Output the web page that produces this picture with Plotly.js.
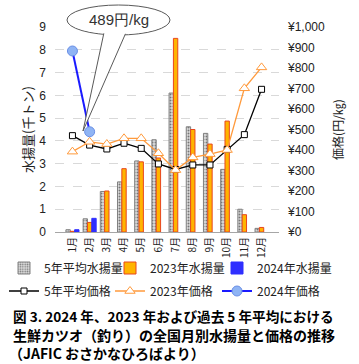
<!DOCTYPE html>
<html><head><meta charset="utf-8">
<script src="https://cdn.plot.ly/plotly-3.0.1.min.js"></script>
<style>html,body{margin:0;padding:0;background:#fff}#c{width:359px;height:364px}</style>
</head><body><div id="c"></div>
<script>
const months = ['1月','2月','3月','4月','5月','6月','7月','8月','9月','10月','11月','12月'];
const avg5Catch = [0.10,0.58,1.78,2.20,3.12,4.05,6.10,4.62,4.33,2.75,1.00,0.16];
const catch2023 = [0.03,0.42,1.80,2.78,3.08,3.25,8.50,4.50,3.86,4.87,0.76,0.20];
const catch2024 = [0.10,0.60,null,null,null,null,null,null,null,null,null,null];
const avg5Price = [470,424,405,433,408,332,305,327,327,403,475,696];
const price2023 = [392,440,429,457,457,384,302,364,380,400,701,803];
const price2024 = [883,489,null,null,null,null,null,null,null,null,null,null];
const calloutText = '489円/kg';
const captionLines = ['図 3. 2024 年、2023 年および過去 5 年平均における','生鮮カツオ（釣り）の全国月別水揚量と価格の推移','（JAFIC おさかなひろばより）'];

const W=359,H=364,L=55,R=80,T=27,B=132;
const pw=W-L-R, ph=H-T-B;
const px=x=>(x-L)/pw, py=y=>(H-B-y)/ph;
const JP='"Noto Sans CJK JP", sans-serif';
const LS='"Liberation Sans", Arial, sans-serif';

const traces = [
 {type:'bar',name:'5年平均水揚量',x:months,y:avg5Catch,legend:'legend',
  marker:{color:'#d4d4d4',line:{color:'#808080',width:1},pattern:{shape:'.',fgcolor:'#777',bgcolor:'#dcdcdc',size:3,solidity:0.35}}},
 {type:'bar',name:'2023年水揚量',x:months,y:catch2023,legend:'legend2',
  marker:{color:'#FFB400',line:{color:'#E8461E',width:1}}},
 {type:'bar',name:'2024年水揚量',x:months,y:catch2024,legend:'legend3',
  marker:{color:'#2f2fff',line:{color:'#2f2fff',width:1}}},
 {type:'scatter',mode:'lines+markers',name:'5年平均価格',x:months,y:avg5Price,yaxis:'y2',legend:'legend4',
  line:{color:'#000',width:1.3},marker:{symbol:'square',size:6,color:'#fff',line:{color:'#000',width:1}}},
 {type:'scatter',mode:'lines+markers',name:'2023年価格',x:months,y:price2023,yaxis:'y2',legend:'legend5',
  line:{color:'#FF9A3C',width:1.3},marker:{symbol:'triangle-up',size:9,color:'#fff',line:{color:'#FF9A3C',width:1}}},
 {type:'scatter',mode:'lines+markers',name:'2024年価格',x:months,y:price2024,yaxis:'y2',legend:'legend6',
  line:{color:'#1a1aff',width:2},marker:{symbol:'circle',size:10,color:'#8fb4f4',line:{color:'#6a8fe6',width:1}}}
];

const ann = [
 {xref:'paper',yref:'paper',x:px(119),y:py(20),xanchor:'center',yanchor:'middle',text:calloutText,showarrow:false,font:{family:LS,size:15,color:'#333'}},
];
const capY=[315.5,334.5,353];
const capSize=[13.6,14,14];
captionLines.forEach((t,i)=>ann.push({xref:'paper',yref:'paper',x:px(i==2?8:12),y:py(capY[i]),xanchor:'left',yanchor:'middle',height:16,valign:'middle',borderpad:0,text:t,showarrow:false,font:{family:JP,size:capSize[i],color:'#000',weight:'bold'}}));

const legX=[4,110,217], legY=[268,291];
function leg(i){
 return {orientation:'h',xref:'container',yref:'container',x:legX[i%3]/W,xanchor:'left',y:1-legY[Math.floor(i/3)]/H,yanchor:'middle',
   font:{size:12,family:JP,color:'#222'},itemwidth:30,bgcolor:'rgba(0,0,0,0)',borderwidth:0};
}

const layout = {
 width:W,height:H,margin:{l:L,r:R,t:T,b:B,autoexpand:false},paper_bgcolor:'#fff',plot_bgcolor:'#fff',
 barmode:'group',bargap:0.24,bargroupgap:0,showlegend:true,
 font:{family:JP,color:'#222'},
 xaxis:{type:'category',automargin:false,tickangle:-90,tickfont:{size:10,family:JP,color:'#222'},showline:true,linecolor:'#a6a6a6',linewidth:1,ticks:'',showgrid:false,zeroline:false,fixedrange:true},
 yaxis:{automargin:false,range:[0,9],dtick:1,showgrid:true,gridcolor:'#d9d9d9',griddash:'dash',zeroline:false,showline:false,ticks:'',ticklabelstandoff:8,
   tickfont:{size:12,family:LS,color:'#222'},
   title:{text:'水揚量(千トン)',font:{size:13,family:JP,color:'#222'},standoff:2}},
 yaxis2:{automargin:false,overlaying:'y',side:'right',range:[0,1000],dtick:100,tickprefix:'¥',tickformat:',d',showgrid:false,zeroline:false,showline:false,ticks:'',ticklabelstandoff:8,
   tickfont:{size:12,family:LS,color:'#222'},
   title:{text:'価格(円/㎏)',font:{size:12,family:JP,color:'#222'},standoff:10}},
 legend:leg(0),legend2:leg(1),legend3:leg(2),legend4:leg(3),legend5:leg(4),legend6:leg(5),
 shapes:[
  {type:'circle',xref:'paper',yref:'paper',x0:px(67),x1:px(170),y0:py(5),y1:py(35),fillcolor:'#fff',line:{color:'#595959',width:1},layer:'above'},
  {type:'path',xref:'paper',yref:'paper',path:`M${px(104)},${py(32.5)} L${px(83)},${py(131)} L${px(126)},${py(32.5)} Z`,fillcolor:'#fff',line:{color:'#595959',width:1},layer:'above'},
  {type:'circle',xref:'paper',yref:'paper',x0:px(68.5),x1:px(168.5),y0:py(6.5),y1:py(34),fillcolor:'#fff',line:{width:0},layer:'above'}
 ],
 annotations:ann
};
Plotly.newPlot('c',traces,layout,{staticPlot:true,displayModeBar:false});
</script></body></html>
